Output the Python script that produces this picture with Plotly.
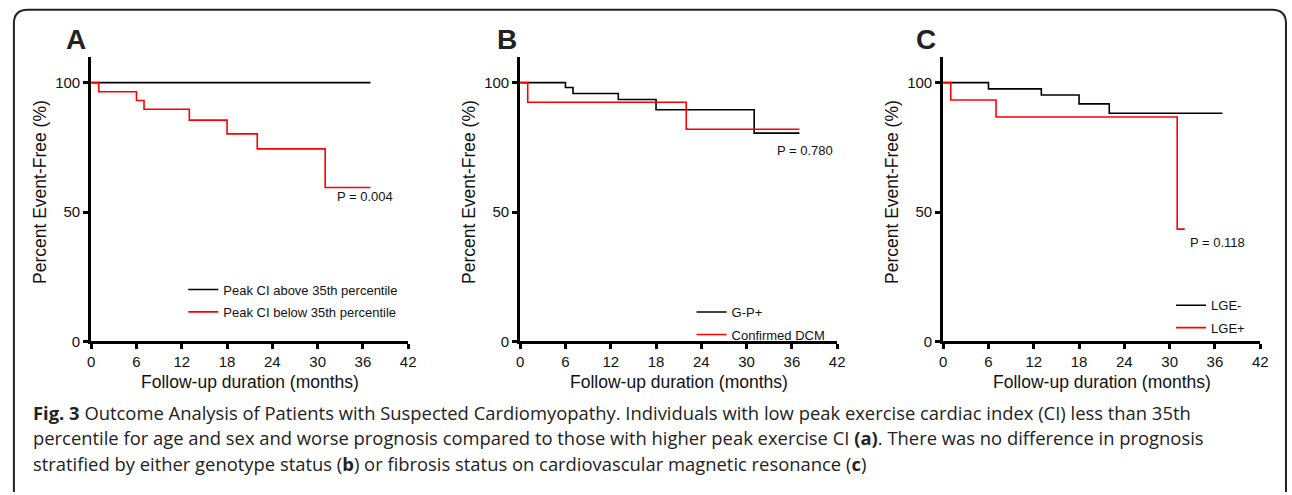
import plotly.graph_objects as go

W, H = 1292, 495

# ---------------- data ----------------
# Panel A
a_above_t = [0, 37]
a_above_s = [100, 100]
a_below_t = [0, 1, 6, 7, 13, 18, 22, 31, 37]
a_below_s = [100, 96.5, 93.1, 89.7, 85.5, 80.2, 74.4, 59.5, 59.5]
# Panel B
b_gp_t = [0, 6, 7, 13, 18, 31, 37]
b_gp_s = [100, 98.1, 95.8, 93.5, 89.5, 80.5, 80.5]
b_dcm_t = [0, 1, 22, 37]
b_dcm_s = [100, 92.4, 82.0, 82.0]
# Panel C
c_neg_t = [0, 6, 13, 18, 22, 37]
c_neg_s = [100, 97.6, 95.2, 91.8, 88.2, 88.2]
c_pos_t = [0, 1, 7, 31, 32]
c_pos_s = [100, 93.3, 86.7, 43.4, 43.4]

x_ticks = [0, 6, 12, 18, 24, 30, 36, 42]
y_ticks = [0, 50, 100]
panel_letters = ["A", "B", "C"]
p_values = ["P = 0.004", "P = 0.780", "P = 0.118"]
legend_names = [
    ("Peak CI above 35th percentile", "Peak CI below 35th percentile"),
    ("G-P+", "Confirmed DCM"),
    ("LGE-", "LGE+"),
]
x_title = "Follow-up duration (months)"
y_title = "Percent Event-Free (%)"
caption_lines = [
    "<b>Fig. 3</b> Outcome Analysis of Patients with Suspected Cardiomyopathy. Individuals with low peak exercise cardiac index (CI) less than 35th",
    "percentile for age and sex and worse prognosis compared to those with higher peak exercise CI <b>(a)</b>. There was no difference in prognosis",
    "stratified by either genotype status (<b>b</b>) or fibrosis status on cardiovascular magnetic resonance (<b>c</b>)",
]

# ---------------- layout helpers ----------------
def px(x):
    return x / W

def py(y):
    return 1 - y / H

FONT = "Liberation Sans, Arial, sans-serif"
BLACK = "#000000"
RED = "#ff0000"

x_dom_px = [(88, 408), (521, 841), (948, 1268)]
y_dom = [py(347), py(57.7)]

fig = go.Figure()

series = [
    (a_above_t, a_above_s, a_below_t, a_below_s),
    (b_gp_t, b_gp_s, b_dcm_t, b_dcm_s),
    (c_neg_t, c_neg_s, c_pos_t, c_pos_s),
]

legend_pos_px = [(181, 279), (694, 302), (1178, 295)]
p_pos = [(36.3, 55.9), (37.7, 73.9), (36.4, 38.4)]
letter_px = [73, 508, 931]

layout_axes = {}
annotations = []
for i, (t1, s1, t2, s2) in enumerate(series):
    n = "" if i == 0 else str(i + 1)
    lg = "legend" if i == 0 else f"legend{i + 1}"
    fig.add_trace(go.Scatter(x=t1, y=s1, mode="lines", line=dict(color=BLACK, width=1.6, shape="hv"),
                             name=legend_names[i][0], xaxis=f"x{n}", yaxis=f"y{n}", legend=lg,
                             legendgroup=f"g{i}a"))
    fig.add_trace(go.Scatter(x=t2, y=s2, mode="lines", line=dict(color=RED, width=1.6, shape="hv"),
                             name=legend_names[i][1], xaxis=f"x{n}", yaxis=f"y{n}", legend=lg,
                             legendgroup=f"g{i}b"))
    l, r = x_dom_px[i]
    common = dict(showline=True, linewidth=3, linecolor=BLACK, ticks="outside", ticklen=5,
                  tickwidth=3, tickcolor=BLACK, showgrid=False, zeroline=False,
                  tickfont=dict(family=FONT, size=15, color="#111111"), fixedrange=True)
    layout_axes[f"xaxis{n}"] = dict(domain=[px(l), px(r)], range=[0, 42], tickvals=x_ticks,
                                   anchor=f"y{n}", **common)
    layout_axes[f"yaxis{n}"] = dict(domain=y_dom, range=[0, 110], tickvals=y_ticks,
                                   anchor=f"x{n}", **common)
    lx, ly = legend_pos_px[i]
    layout_axes[lg] = dict(x=px(lx), y=py(ly), xanchor="left", yanchor="top",
                           bgcolor="rgba(0,0,0,0)", borderwidth=0, itemwidth=30,
                           tracegroupgap=2.5, traceorder="grouped",
                           font=dict(family=FONT, size=13, color="#111111"))
    # P value
    annotations.append(dict(x=p_pos[i][0], y=p_pos[i][1], xref=f"x{n}", yref=f"y{n}",
                            xanchor="center", yanchor="middle",
                            text=p_values[i], showarrow=False,
                            font=dict(family=FONT, size=13, color="#111111")))
    # panel letter
    annotations.append(dict(x=px(letter_px[i]), y=py(40), xref="paper", yref="paper",
                            xanchor="center", yanchor="middle",
                            text=f"<b>{panel_letters[i]}</b>", showarrow=False,
                            font=dict(family=FONT, size=28, color="#222222")))
    # axis titles
    annotations.append(dict(x=px((l + r) / 2), y=py(388), xref="paper", yref="paper",
                            xanchor="center", yanchor="middle",
                            text=x_title, showarrow=False,
                            font=dict(family=FONT, size=17.5, color="#111111")))
    annotations.append(dict(x=px(l - 51.5), y=py(195), xref="paper", yref="paper",
                            xanchor="center", yanchor="middle",
                            text=y_title, showarrow=False, textangle=-90,
                            font=dict(family=FONT, size=17.5, color="#111111")))

caption_y = [419, 445, 471]
for line, yy in zip(caption_lines, caption_y):
    annotations.append(dict(x=px(27), y=py(yy), xref="paper", yref="paper",
                            xanchor="left", yanchor="middle",
                            text=line, showarrow=False, align="left",
                            font=dict(family="Open Sans, sans-serif", size=18.4, color="#222222")))

rad = 14
border_path = (f"M {px(10)},{py(500)} L {px(10)},{py(10 + rad)} "
               f"Q {px(10)},{py(10)} {px(10 + rad)},{py(10)} "
               f"L {px(1294 - rad)},{py(10)} Q {px(1294)},{py(10)} {px(1294)},{py(10 + rad)} "
               f"L {px(1294)},{py(500)}")

fig.update_layout(
    width=W, height=H,
    margin=dict(l=0, r=0, t=0, b=0),
    paper_bgcolor="white", plot_bgcolor="white",
    annotations=annotations,
    shapes=[dict(type="path", path=border_path, xref="paper", yref="paper",
                 line=dict(color="#222222", width=2))],
    **layout_axes,
)

fig.write_html("out.html", config={"displayModeBar": False},
               post_script="document.body.style.margin='0';document.body.style.overflow='hidden';")
